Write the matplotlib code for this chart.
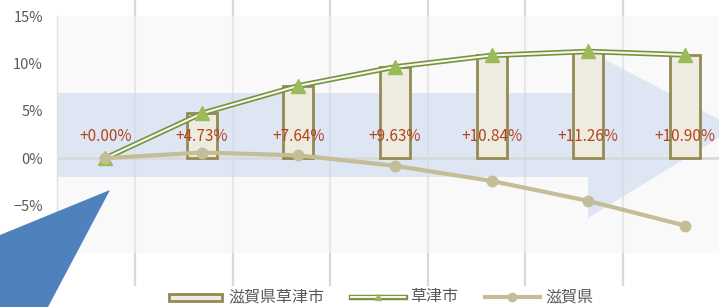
import matplotlib.pyplot as plt
from matplotlib.patches import Polygon, Rectangle
from matplotlib.lines import Line2D

plt.rcParams['font.family'] = ['Liberation Sans Narrow', 'Noto Sans CJK JP', 'DejaVu Sans']

# データ（人口増減率 %）
years = ['1985', '1990', '1995', '2000', '2005', '2010', '2015']
kusatsu_bar = [0.00, 4.73, 7.64, 9.63, 10.84, 11.26, 10.90]
kusatsu_line = [0.00, 4.73, 7.64, 9.63, 10.84, 11.26, 10.90]
shiga_line = [0.0, 0.6, 0.3, -0.8, -2.4, -4.5, -7.1]
yticks = [-5, 0, 5, 10, 15]
ytick_labels = ['−5%', '0%', '5%', '10%', '15%']

W, H = 719, 307
fig = plt.figure(figsize=(W / 100, H / 100), dpi=100)


def fx(px):
    return px / W


def fy(py):
    return 1 - py / H


# 背景の縦線
for gx in [135, 233, 330, 428, 525, 623]:
    fig.add_artist(Line2D([fx(gx), fx(gx)], [fy(0), fy(285)], color='#d9d9d9',
                          lw=1.6, transform=fig.transFigure, zorder=-1))

ax = fig.add_axes([fx(57), fy(253), fx(733 - 57), 237 / H])
ax.set_facecolor((0.96, 0.96, 0.96, 0.5))
x = list(range(len(years)))

# 矢印（背景）
arrow_px = [(57, 93), (596, 93), (600, 57), (735, 128), (588, 218), (588, 177), (57, 177)]
ax.add_patch(Polygon([(fx(a), fy(b)) for a, b in arrow_px], closed=True,
                     transform=fig.transFigure, facecolor='#c9d7f1', alpha=0.55,
                     edgecolor='none', zorder=0.5))

ax.axhline(0, color='#d9d9d9', lw=2, zorder=1)

bar_lw = [0 if v == 0 else 2 for v in kusatsu_bar]
ax.bar(x, kusatsu_bar, width=0.31, color='#eeece1', edgecolor='#948a54',
       linewidth=bar_lw, zorder=2)

# 草津市（二重線）
ax.plot(x, kusatsu_line, color='#77933c', lw=3.9, zorder=3)
ax.plot(x, kusatsu_line, color='#f7f7f2', lw=1.5, zorder=3.1)
ax.plot(x, kusatsu_line, ls='none', marker='^', ms=10, color='#9bbb59', zorder=3.2)

# 滋賀県
ax.plot(x, shiga_line, color='#c4bd97', lw=3, marker='o', ms=7.5, zorder=4)

for xi, v in zip(x, kusatsu_bar):
    ax.text(xi, 2.25, f'+{v:.2f}%', ha='center', va='center', fontsize=11,
            color='#b3441b', zorder=5)

ax.set_xlim(-0.5, 6.5)
ax.set_ylim(-10, 15)
ax.set_xticks([])
ax.set_yticks(yticks)
ax.set_yticklabels(ytick_labels, fontsize=10.5, color='#595959')
ax.tick_params(axis='y', length=0, pad=10)
for s in ['top', 'right', 'bottom']:
    ax.spines[s].set_visible(False)
ax.spines['left'].set_color('#e0e0e0')
ax.spines['left'].set_linewidth(1)

# 左下の三角形
fig.add_artist(Polygon([(fx(0), fy(235)), (fx(110), fy(190)), (fx(48), fy(307)), (fx(0), fy(307))],
                       closed=True, transform=fig.transFigure, facecolor='#4f81bd',
                       edgecolor='none', zorder=10))

# 凡例
ly = fy(297)
leg_font = ['Noto Sans CJK JP', 'DejaVu Sans']
fig.add_artist(Rectangle((fx(169), fy(300.5)), fx(53), 7 / H, transform=fig.transFigure,
                         facecolor='#eeece1', edgecolor='#948a54', lw=2))
fig.text(fx(228), ly, '滋賀県草津市', fontsize=11.5, color='#595959', va='center',
         family=leg_font)
fig.add_artist(Line2D([fx(351), fx(405)], [ly, ly], color='#77933c', lw=3.9,
                      transform=fig.transFigure))
fig.add_artist(Line2D([fx(351), fx(405)], [ly, ly], color='#f7f7f2', lw=1.5,
                      transform=fig.transFigure))
fig.add_artist(Line2D([fx(378)], [ly], marker='^', ms=5, color='#9bbb59',
                      transform=fig.transFigure))
fig.text(fx(410), ly, '草津市', fontsize=11.5, color='#595959', va='center', family=leg_font)
fig.add_artist(Line2D([fx(485), fx(540)], [ly, ly], color='#c4bd97', lw=3,
                      transform=fig.transFigure))
fig.add_artist(Line2D([fx(512)], [ly], marker='o', ms=6, color='#c4bd97',
                      transform=fig.transFigure))
fig.text(fx(545), ly, '滋賀県', fontsize=11.5, color='#595959', va='center', family=leg_font)

fig.savefig('out.png', dpi=100)
